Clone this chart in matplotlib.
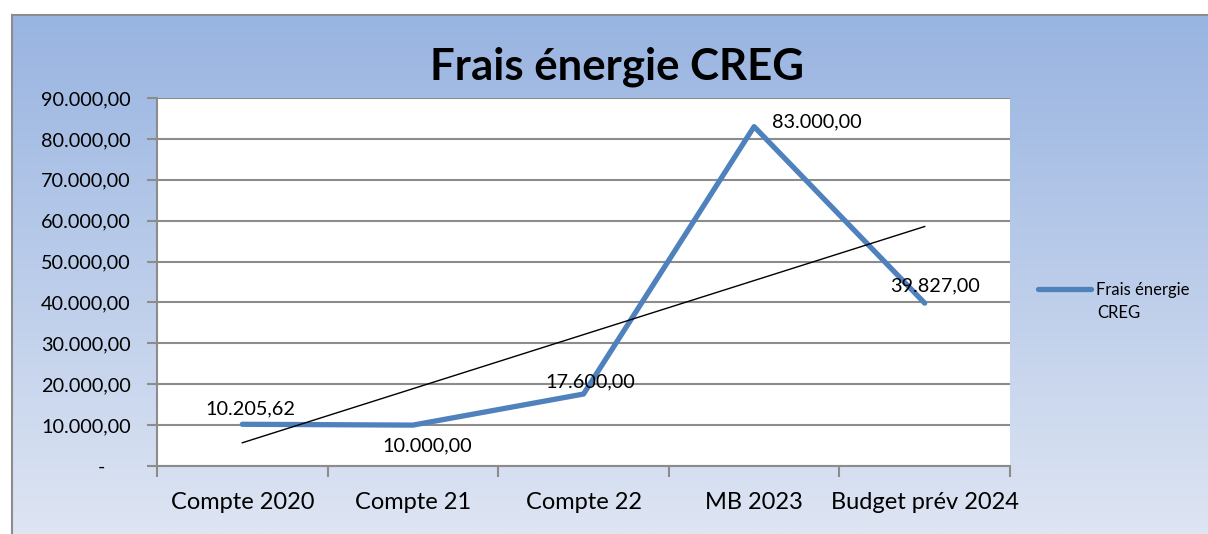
import numpy as np
import matplotlib.pyplot as plt
from matplotlib.ticker import FuncFormatter

categories = ['Compte 2020', 'Compte 21', 'Compte 22', 'MB 2023', 'Budget prév 2024']
values = [10205.62, 10000.00, 17600.00, 83000.00, 39827.00]
series_name = 'Frais énergie CREG'
title = 'Frais énergie CREG'

plt.rcParams['font.family'] = ['Lato', 'DejaVu Sans']


def fr(v):
    s = f'{v:,.2f}'
    return s.replace(',', ' ').replace('.', ',').replace(' ', '.')


fig = plt.figure(figsize=(12.08, 5.34), dpi=100)
W, H = 1208, 534

# fond en dégradé
bg = fig.add_axes([12 / W, 0, 1 - 12 / W, (H - 15) / H])
grad = np.linspace(0, 1, 256)[:, None]
top = np.array([152, 180, 225]) / 255
bot = np.array([222, 229, 243]) / 255
img = top[None, None, :] * (1 - grad[:, :, None]) + bot[None, None, :] * grad[:, :, None]
bg.imshow(img, aspect='auto', extent=[0, 1, 0, 1])
bg.set_xticks([])
bg.set_yticks([])
for s in ['right', 'bottom']:
    bg.spines[s].set_visible(False)
for s in ['top', 'left']:
    bg.spines[s].set_color('#8c8c8c')
    bg.spines[s].set_linewidth(1.5)

ax = fig.add_axes([157 / W, 1 - 466 / H, 853 / W, 368 / H])
ax.set_facecolor('white')
x = np.arange(len(categories))

ax.set_ylim(0, 90000)
ax.set_xlim(-0.5, len(categories) - 0.5)
ax.set_yticks(np.arange(0, 90001, 10000))
ax.yaxis.set_major_formatter(FuncFormatter(lambda v, p: fr(v) if v else '-     '))
ax.grid(axis='y', color='#8c8c8c', linewidth=1.5)
ax.set_axisbelow(True)

ax.set_xticks(x)
ax.set_xticklabels(categories, fontsize=17)
ax.set_xticks(np.arange(-0.5, len(categories)), minor=True)
ax.tick_params(axis='x', which='major', length=0, pad=19)
ax.tick_params(axis='x', which='minor', length=8, width=1.5, color='#8c8c8c')
ax.tick_params(axis='y', length=7, width=1.5, color='#8c8c8c', labelsize=14.3, pad=12)
for s in ['top', 'right']:
    ax.spines[s].set_visible(False)
for s in ['left', 'bottom']:
    ax.spines[s].set_color('#8c8c8c')
    ax.spines[s].set_linewidth(1.5)

line, = ax.plot(x, values, color='#4f81bd', linewidth=3.8, solid_capstyle='round',
                solid_joinstyle='round', label=series_name, zorder=3)

# courbe de tendance linéaire
coef = np.polyfit(x, values, 1)
ax.plot(x, np.polyval(coef, x), color='black', linewidth=1.0, zorder=4)

offsets = [(8, 15, 'center', 'center'), (14, -21, 'center', 'center'), (7, 12, 'center', 'center'),
           (18, 5, 'left', 'center'), (10, 17, 'center', 'center')]
for xi, v, (dx, dy, ha, va) in zip(x, values, offsets):
    ax.annotate(fr(v), (xi, v), xytext=(dx, dy), textcoords='offset pixels',
                ha=ha, va=va, fontsize=14.3, zorder=5)

fig.text(617 / W, 1 - 67 / H, title, ha='center', va='center', fontsize=31.5, fontweight='bold')

# légende : la ligne est alignée sur la première ligne du libellé
name1, name2 = series_name.rsplit(' ', 1)
fig.legend(handles=[line], labels=[name1], loc='center left',
           bbox_to_anchor=(1038 / W, 1 - 290 / H), frameon=False, fontsize=12,
           handlelength=3.2, handletextpad=0.3, borderpad=0, borderaxespad=0)
fig.text(1097 / W, 1 - 313 / H, name2, ha='left', va='center', fontsize=12)

fig.savefig('out.png', dpi=100)
